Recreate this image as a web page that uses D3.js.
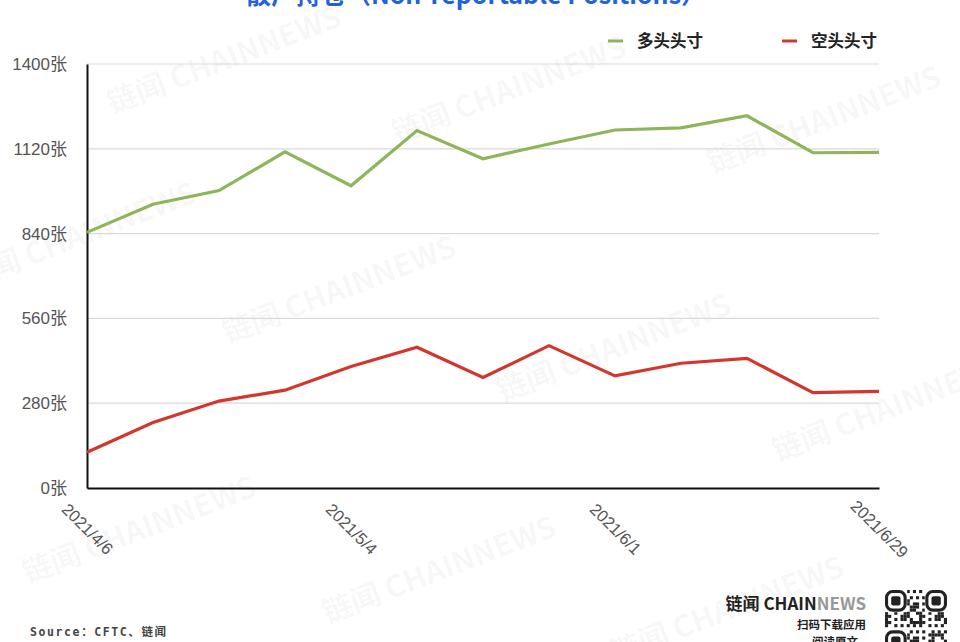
<!DOCTYPE html>
<html>
<head>
<meta charset="utf-8">
<script src="https://cdn.jsdelivr.net/npm/d3@7"></script>
<style>
  html, body { margin: 0; padding: 0; background: #fff; }
  svg { display: block; }
</style>
</head>
<body>
<svg id="chart" width="960" height="642"></svg>
<script>
const dates = ["2021/4/6","2021/4/13","2021/4/20","2021/4/27","2021/5/4","2021/5/11","2021/5/18","2021/5/25","2021/6/1","2021/6/8","2021/6/15","2021/6/22","2021/6/29"];
const longPositions  = [844, 937, 982, 1110, 998, 1180, 1087, 1136, 1182, 1189, 1229, 1107, 1108];
const shortPositions = [118, 216, 287, 323, 401, 465, 365, 470, 370, 412, 428, 315, 319];
const yTicks = [0, 280, 560, 840, 1120, 1400];
const xTickLabels = ["2021/4/6","2021/5/4","2021/6/1","2021/6/29"];
const seriesNames = ["多头头寸", "空头头寸"];
const titleText = "散户持仓（Non-reportable Positions）";

const svg = d3.select("#chart");
const W = 960, H = 642;
const m = {left: 87, right: 81, top: 64, bottom: 154};
const font = "'Liberation Sans', 'Noto Sans CJK SC', sans-serif";
const cjk = "'Noto Sans CJK SC', 'Liberation Sans', sans-serif";

// watermarks
const wm = [[225,62],[510,92],[825,122],[80,238],[340,292],[615,350],[890,410],[140,532],[440,572],[728,612]];
svg.append("g").selectAll("text").data(wm).join("text")
  .attr("transform", d => `translate(${d[0]},${d[1]}) rotate(-21)`)
  .attr("text-anchor", "middle").attr("dominant-baseline", "middle")
  .attr("font-family", cjk).attr("font-weight", 700).attr("font-size", 30)
  .attr("fill", "#000").attr("fill-opacity", 0.045)
  .text("链闻 CHAINNEWS");

const x = d3.scalePoint().domain(dates).range([m.left, W - m.right]);
const y = d3.scaleLinear().domain([0, 1400]).range([H - m.bottom, m.top]);

// grid
svg.append("g").selectAll("line").data(yTicks.filter(t => t > 0)).join("line")
  .attr("x1", m.left).attr("x2", W - m.right)
  .attr("y1", d => y(d)).attr("y2", d => y(d))
  .attr("stroke", "#d9d9d9").attr("stroke-width", 1.2);

// y axis
const yAxis = d3.axisLeft(y).tickValues(yTicks).tickSize(0).tickPadding(20).tickFormat(d => d + "张");
const yg = svg.append("g").attr("transform", `translate(${m.left},0)`).call(yAxis);
yg.select(".domain").attr("stroke", "#111").attr("stroke-width", 2);
yg.selectAll("text").attr("font-family", font).attr("font-size", 17).attr("fill", "#555");

// x axis
const xAxis = d3.axisBottom(x).tickValues(xTickLabels).tickSize(0).tickFormat(d => d);
const xg = svg.append("g").attr("transform", `translate(0,${H - m.bottom})`).call(xAxis);
xg.select(".domain").attr("stroke", "#111").attr("stroke-width", 2);
xg.selectAll("text")
  .attr("font-family", font).attr("font-size", 16.5).attr("fill", "#555")
  .attr("y", 0).attr("dy", "0.35em")
  .attr("text-anchor", "middle")
  .attr("transform", "translate(0,41) rotate(45)");

// lines
const line = d3.line().x((d, i) => x(dates[i])).y(d => y(d));
const series = [
  {name: seriesNames[0], values: longPositions, color: "#8db55a"},
  {name: seriesNames[1], values: shortPositions, color: "#d2362d"}
];
svg.append("g").selectAll("path").data(series).join("path")
  .attr("d", d => line(d.values))
  .attr("fill", "none").attr("stroke", d => d.color)
  .attr("stroke-width", 3.2).attr("stroke-linejoin", "miter");

// legend
const legX = [608, 782];
const lg = svg.append("g").selectAll("g").data(series).join("g")
  .attr("transform", (d, i) => `translate(${legX[i]},41)`);
lg.append("line").attr("x1", 0).attr("x2", 15).attr("y1", 0).attr("y2", 0)
  .attr("stroke", d => d.color).attr("stroke-width", 3);
lg.append("text").attr("x", 29).attr("y", 0).attr("dy", "0.36em")
  .attr("font-family", cjk).attr("font-weight", 700).attr("font-size", 16.5)
  .attr("fill", "#222").text(d => d.name);

// title (cut off at top)
svg.append("text").attr("x", 476).attr("y", 4)
  .attr("text-anchor", "middle")
  .attr("font-family", cjk).attr("font-weight", 700).attr("font-size", 25)
  .attr("fill", "#2362d9").text(titleText);

// source
svg.append("text").attr("x", 30).attr("y", 636)
  .attr("font-family", "'DejaVu Sans Mono', 'Noto Sans CJK SC', monospace")
  .attr("font-weight", 700).attr("font-size", 11.5).attr("letter-spacing", 1.6)
  .attr("fill", "#444").text("Source：CFTC、链闻");

// brand
const brand = svg.append("text").attr("x", 866).attr("y", 610).attr("text-anchor", "end")
  .attr("font-family", cjk).attr("font-weight", 700).attr("font-size", 17);
brand.append("tspan").attr("fill", "#222").text("链闻 CHAIN");
brand.append("tspan").attr("fill", "#999").text("NEWS");
svg.append("text").attr("x", 866).attr("y", 629).attr("text-anchor", "end")
  .attr("font-family", cjk).attr("font-weight", 700).attr("font-size", 11.5)
  .attr("fill", "#222").text("扫码下载应用");
svg.append("text").attr("x", 858).attr("y", 646).attr("text-anchor", "end")
  .attr("font-family", cjk).attr("font-weight", 700).attr("font-size", 11.5)
  .attr("fill", "#222").text("阅读原文");

// QR-like block
const qr = svg.append("g").attr("transform", "translate(885,590)");
const cell = 3.1;
const n = 20;
const cells = [];
for (let r = 0; r < n; r++) for (let c = 0; c < n; c++) {
  const h = ((r * 131 + c * 71 + r * c * 17) % 11);
  if (h < 5) cells.push([r, c]);
}
qr.selectAll("rect.c").data(cells).join("rect").attr("class", "c")
  .attr("x", d => d[1] * cell).attr("y", d => d[0] * cell)
  .attr("width", cell).attr("height", cell).attr("fill", "#222");
const finders = [[0,0],[0,n-7],[n-7,0]];
finders.forEach(([r, c]) => {
  qr.append("rect").attr("x", c*cell - 0.5).attr("y", r*cell - 0.5).attr("width", 7*cell + 1).attr("height", 7*cell + 1).attr("fill", "#fff");
  qr.append("rect").attr("x", c*cell + cell/2).attr("y", r*cell + cell/2).attr("width", 6*cell).attr("height", 6*cell).attr("rx", 6).attr("fill", "none").attr("stroke", "#222").attr("stroke-width", cell);
  qr.append("rect").attr("x", (c+2)*cell).attr("y", (r+2)*cell).attr("width", 3*cell).attr("height", 3*cell).attr("rx", 2).attr("fill", "#222");
});
</script>
</body>
</html>
